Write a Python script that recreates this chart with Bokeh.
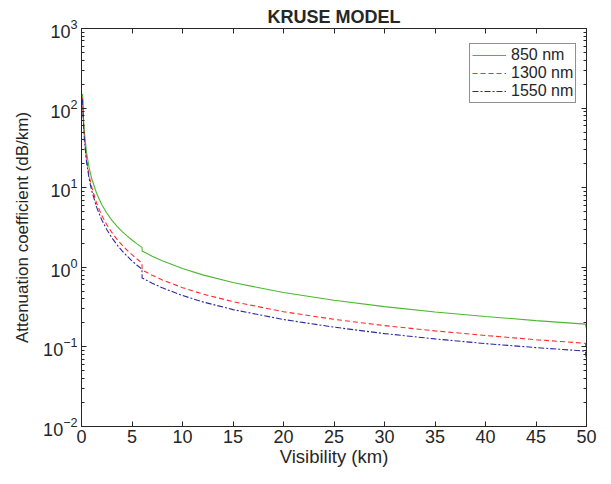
from bokeh.plotting import figure
from bokeh.embed import file_html
from bokeh.resources import INLINE
from bokeh.models import (LinearAxis, LogAxis, FixedTicker, LogTicker, Range1d,
                          CustomJSTickFormatter, Legend, LegendItem)

visibility = [0.1, 0.2, 0.3, 0.5, 0.75, 1, 1.5, 2, 2.5, 3, 3.5, 4, 4.5, 5, 5.5, 5.99,
              6, 7, 8, 10, 12, 15, 20, 25, 30, 35, 40, 45, 49.9, 50]
att_850 = [150.9, 73.2, 47.7, 27.7, 17.96, 13.16, 8.46, 6.16, 4.81, 3.92, 3.30, 2.83, 2.48, 2.20, 1.97, 1.78,
           1.607, 1.377, 1.205, 0.964, 0.803, 0.643, 0.482, 0.386, 0.321, 0.275, 0.241, 0.214, 0.193, 0.169]
att_1300 = [134.4, 63.3, 40.4, 22.8, 14.33, 10.27, 6.36, 4.50, 3.43, 2.74, 2.26, 1.91, 1.64, 1.44, 1.27, 1.13,
            0.925, 0.793, 0.694, 0.555, 0.462, 0.370, 0.277, 0.222, 0.185, 0.159, 0.139, 0.123, 0.111, 0.0858]
att_1550 = [128.2, 59.6, 37.7, 21.0, 13.05, 9.26, 5.66, 3.96, 2.98, 2.36, 1.93, 1.62, 1.39, 1.20, 1.06, 0.94,
            0.736, 0.631, 0.552, 0.442, 0.368, 0.294, 0.221, 0.177, 0.147, 0.126, 0.110, 0.098, 0.0885, 0.0647]
x_ticks = [0, 5, 10, 15, 20, 25, 30, 35, 40, 45, 50]
series_labels = ["850 nm", "1300 nm", "1550 nm"]

FONT = "Liberation Sans"
TXT = "#262626"

p = figure(width=603, height=476, output_backend="svg", toolbar_location=None,
           y_axis_type="log", x_range=Range1d(0, 50), y_range=Range1d(1e-2, 1e3),
           min_border_left=81, min_border_right=17, min_border_top=28, min_border_bottom=50)

p.title.text = "KRUSE MODEL"
p.title.align = "center"
p.title.text_font = FONT
p.title.text_font_size = "18px"
p.title.text_font_style = "bold"
p.title.text_color = TXT
p.title.standoff = 3

p.xgrid.visible = False
p.ygrid.visible = False
p.outline_line_color = TXT
p.outline_line_width = 1
p.background_fill_color = "white"

r1 = p.line(visibility, att_850, line_color="#4cb82e", line_width=1.1)
r2 = p.line(visibility, att_1300, line_color="#ff2b2b", line_width=1.1, line_dash="5 3")
r3 = p.line(visibility, att_1550, line_color="#2a2a9e", line_width=1.1, line_dash="6 2 2 2")

def style(ax):
    ax.axis_line_color = TXT
    ax.major_tick_in = 5
    ax.major_tick_out = 0
    ax.minor_tick_in = 3
    ax.minor_tick_out = 0
    ax.major_tick_line_color = TXT
    ax.minor_tick_line_color = TXT
    ax.major_label_text_font = FONT
    ax.major_label_text_font_size = "18px"
    ax.major_label_text_color = TXT
    ax.axis_label_text_font = FONT
    ax.axis_label_text_font_size = "18px"
    ax.axis_label_text_font_style = "normal"
    ax.axis_label_text_color = TXT

xa = p.xaxis[0]
xa.ticker = FixedTicker(ticks=x_ticks)
xa.axis_label = "Visibility (km)"
xa.axis_label_standoff = 0
xa.major_label_standoff = 3
style(xa)
xa.axis_label_text_font_size = "18.5px"

ya = p.yaxis[0]
ya.ticker = LogTicker(desired_num_ticks=6, num_minor_ticks=10)
ya.axis_label = "Attenuation coefficient (dB/km)"
ya.axis_label_standoff = 8
ya.major_label_standoff = 4
style(ya)
ya.axis_label_text_font_size = "17px"

top = LinearAxis(ticker=FixedTicker(ticks=x_ticks),
                 formatter=CustomJSTickFormatter(code="return ''"))
style(top)
p.add_layout(top, "above")

right = LogAxis(ticker=LogTicker(desired_num_ticks=6, num_minor_ticks=10),
                formatter=CustomJSTickFormatter(code="return ''"))
style(right)
p.add_layout(right, "right")

legend = Legend(items=[LegendItem(label=series_labels[0], renderers=[r1]),
                       LegendItem(label=series_labels[1], renderers=[r2]),
                       LegendItem(label=series_labels[2], renderers=[r3])],
                location=(388, 323))
legend.label_text_font = FONT
legend.label_text_font_size = "16px"
legend.label_text_color = TXT
legend.border_line_color = "#222222"
legend.border_line_width = 1
legend.background_fill_alpha = 1
legend.margin = 0
legend.padding = 2
legend.spacing = 0
legend.label_height = 18
legend.glyph_width = 34
legend.glyph_height = 18
legend.label_standoff = 5
legend.label_text_line_height = 1.0
p.add_layout(legend)

open("out.html", "w").write(file_html(p, INLINE))
